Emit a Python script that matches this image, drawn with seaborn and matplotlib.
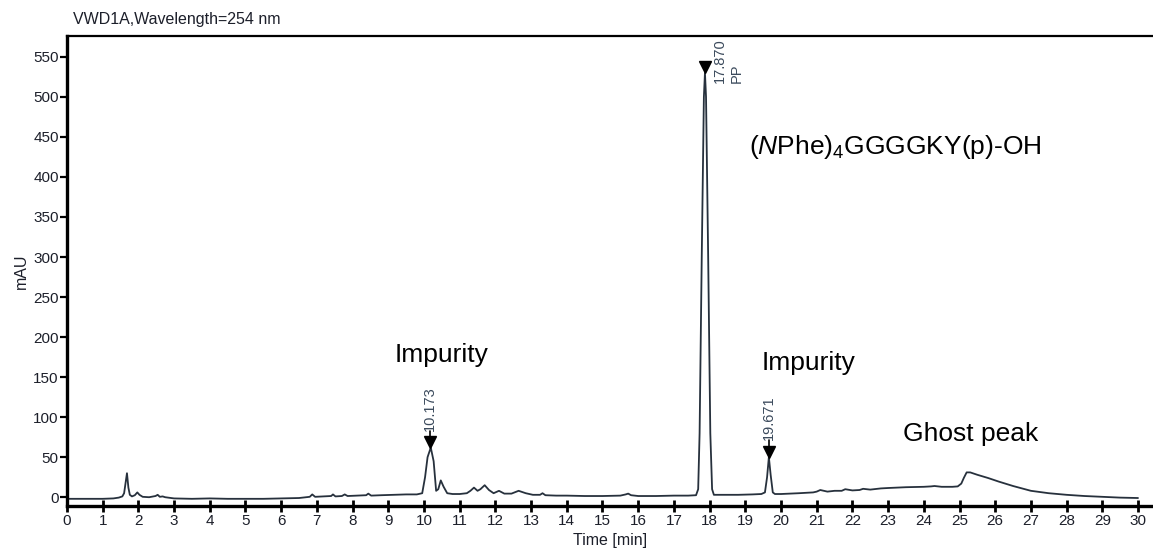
import matplotlib
matplotlib.use("Agg")
import matplotlib.pyplot as plt
import seaborn as sns
import pandas as pd

# Chromatogram trace, VWD1A at 254 nm
time_min = [
    0.0, 0.5, 1.0, 1.3, 1.45, 1.55, 1.60, 1.64, 1.68, 1.72, 1.76, 1.82, 1.90,
    1.97, 2.03, 2.12, 2.30, 2.48, 2.54, 2.60, 2.68, 2.75, 3.0, 3.5, 4.0, 4.5,
    5.0, 5.5, 6.0, 6.5, 6.80, 6.87, 6.95, 7.2, 7.40, 7.45, 7.52, 7.70, 7.78,
    7.86, 8.1, 8.38, 8.44, 8.52, 8.8, 9.2, 9.5, 9.8, 9.95, 10.03, 10.10,
    10.19, 10.27, 10.34, 10.40, 10.47, 10.55, 10.65, 10.8, 11.0, 11.2, 11.3,
    11.40, 11.50, 11.58, 11.70, 11.82, 11.95, 12.10, 12.25, 12.45, 12.65,
    12.85, 13.05, 13.25, 13.32, 13.40, 13.7, 14.0, 14.5, 15.0, 15.5, 15.65,
    15.72, 15.80, 16.0, 16.5, 17.0, 17.4, 17.62, 17.68, 17.72, 17.78, 17.84,
    17.87, 17.90, 17.96, 18.02, 18.07, 18.12, 18.3, 18.8, 19.2, 19.45, 19.55,
    19.61, 19.66, 19.71, 19.77, 19.83, 20.0, 20.5, 20.9, 21.0, 21.1, 21.3,
    21.5, 21.7, 21.8, 22.0, 22.2, 22.3, 22.5, 22.8, 23.0, 23.5, 24.0, 24.2,
    24.3, 24.5, 24.8, 24.95, 25.05, 25.12, 25.2, 25.3, 25.5, 25.8, 26.1, 26.5,
    27.0, 27.5, 28.0, 28.5, 29.0, 29.5, 30.0,
]
signal_mau = [
    -2.0, -2.0, -2.0, -1.5, -0.5, 1.0, 5.0, 18.0, 30.0, 12.0, 3.0, 1.0, 2.5,
    6.0, 3.0, 0.5, 0.0, 1.5, 3.0, 0.5, 1.0, 0.0, -1.5, -2.0, -1.5, -2.0,
    -2.0, -2.0, -1.5, -1.0, 0.5, 3.5, 0.5, 1.0, 1.5, 3.5, 1.0, 1.5, 3.5,
    1.5, 2.0, 2.5, 4.5, 2.0, 2.5, 3.0, 3.5, 3.5, 5.0, 25.0, 50.0,
    62.0, 45.0, 8.0, 10.0, 21.0, 13.0, 5.0, 4.0, 4.0, 5.0, 8.0,
    12.0, 8.0, 10.0, 15.0, 9.0, 5.0, 8.0, 4.5, 4.5, 8.0,
    5.0, 3.0, 3.0, 5.0, 2.5, 2.0, 2.0, 1.5, 1.5, 2.0, 3.5,
    4.5, 2.5, 1.5, 1.5, 2.0, 2.0, 2.5, 10.0, 80.0, 300.0, 500.0,
    530.0, 500.0, 300.0, 80.0, 10.0, 3.0, 3.0, 3.0, 3.5, 4.0, 6.0,
    25.0, 50.0, 28.0, 6.0, 4.0, 4.0, 5.0, 6.0, 7.0, 9.0, 7.0,
    8.0, 8.0, 10.0, 8.5, 9.0, 10.5, 9.5, 11.0, 11.5, 12.5, 13.0, 13.5,
    14.0, 13.0, 13.0, 13.5, 17.0, 24.0, 31.0, 31.0, 28.0, 24.0, 19.5, 14.0,
    8.0, 5.0, 3.0, 1.5, 0.5, -0.5, -1.0,
]

# Integrated peaks marked with retention time
peak_rt = [10.173, 17.870, 19.671]
peak_top = [62.0, 530.0, 50.0]
peak_labels = ["10.173", "17.870", "19.671"]

# Callout texts
callouts = ["Impurity", r"($\mathit{N}$Phe)$_4$GGGGKY(p)-OH", "Impurity", "Ghost peak"]
callout_t = [10.48, 23.19, 20.77, 25.31]
callout_v = [177, 437, 167, 79]

sns.set_style("white")
plt.rcParams["font.family"] = ["Liberation Sans", "DejaVu Sans"]
plt.rcParams["mathtext.fontset"] = "custom"
plt.rcParams["mathtext.rm"] = "Liberation Sans"
plt.rcParams["mathtext.it"] = "Liberation Sans:italic"

fig = plt.figure(figsize=(11.53, 5.54), dpi=100)
ax = fig.add_axes([0.0581, 0.0866, 0.9419, 0.8484])

trace = pd.DataFrame({"t": time_min, "v": signal_mau})
sns.lineplot(data=trace, x="t", y="v", ax=ax, color="#27313d", linewidth=1.3)

ink = "#1c1f2a"
label_col = "#3b4a5c"

# Peak markers and retention-time labels
for rt, top, lab in zip(peak_rt, peak_top, peak_labels):
    ax.plot([rt], [top + 7], marker="v", color="black", markersize=8, clip_on=False)
    if lab == "17.870":
        ax.text(rt + 0.42, top - 13, lab, rotation=90, ha="center", va="bottom",
                fontsize=10.5, color=label_col, clip_on=True)
        ax.text(rt + 0.9, top - 13, "PP", rotation=90, ha="center", va="bottom",
                fontsize=10.5, color=label_col)
    else:
        ax.plot([rt, rt], [top + 12, top + 21], color="black", linewidth=1.2)
        ax.text(rt, top + 21, lab, rotation=90, ha="center", va="bottom",
                fontsize=10.5, color=label_col)

for txt, t, v in zip(callouts, callout_t, callout_v):
    ax.text(t, v, txt, ha="center", va="center", fontsize=19, color="black")

ax.set_xlim(0, 30.42)
ax.set_ylim(-11, 576)
ax.set_xticks(range(0, 31))
ax.set_yticks(range(0, 551, 50))
ax.set_xlabel("Time [min]", fontsize=11.5, color=ink, labelpad=4)
ax.set_ylabel("mAU", fontsize=11.5, color=ink, labelpad=3)

ax.spines["right"].set_visible(False)
ax.spines["left"].set_linewidth(2.4)
ax.spines["bottom"].set_linewidth(2.4)
ax.spines["top"].set_linewidth(1.6)
for side in ["left", "bottom", "top"]:
    ax.spines[side].set_color("black")

ax.tick_params(axis="x", direction="inout", length=9, width=2.0, colors="black",
               labelsize=11, labelcolor=ink, pad=1)
ax.tick_params(axis="y", direction="out", length=5, width=1.6, colors="black",
               labelsize=11, labelcolor=ink, pad=1)
ax.tick_params(bottom=True, left=True)

fig.text(0.0633, 0.965, "VWD1A,Wavelength=254 nm", fontsize=11.5, color=ink,
         ha="left", va="center")

fig.savefig("out.png", dpi=100, facecolor="white")
